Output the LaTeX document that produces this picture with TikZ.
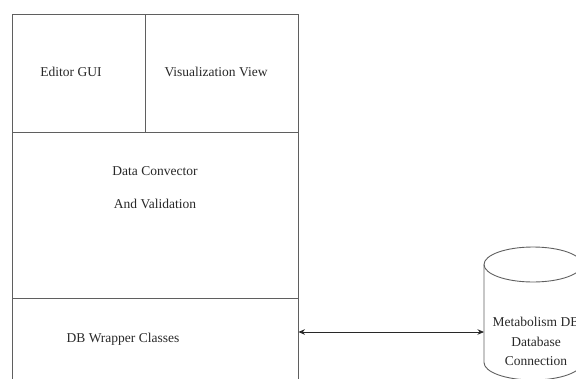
\documentclass[tikz,border=0pt]{standalone}
\usepackage{fontspec}
\setmainfont{Liberation Serif}
\usepackage{tikz}
\usetikzlibrary{arrows.meta}
\definecolor{linegray}{RGB}{95,95,95}
\definecolor{textgray}{RGB}{40,40,40}
\tikzstyle{block} = [rectangle, draw=linegray, line width=0.9pt, inner sep=0pt]
\tikzstyle{caption} = [text=textgray, font=\fontsize{13.5}{19.5}\selectfont, align=center, inner sep=0pt]
\tikzstyle{store} = [draw=linegray, line width=0.9pt]
\tikzstyle{arrow} = [line width=0.8pt, draw=textgray, {Stealth[length=6.5pt,width=5.5pt]}-{Stealth[length=6.5pt,width=5.5pt]}]
\begin{document}
\begin{tikzpicture}
				[x=1pt, y=-1pt]
				\useasboundingbox (0,0) rectangle (576,378);
				\clip (0,0) rectangle (576,378);

				\node (editor) [block, minimum width=133, minimum height=118] at (78.5,73) {};
				\node (view) [block, minimum width=153, minimum height=118] at (221.5,73) {};
				\node (convert) [block, minimum width=286, minimum height=166] at (155,215) {};
				\node (wrapper) [block, minimum width=286, minimum height=102] at (155,349) {};

				% database cylinder
				\coordinate (dbtop) at (533,264.5);
				\coordinate (dbleft) at (484,332);
				\draw [store] (dbtop) ellipse [x radius=49, y radius=17.5];
				\draw [store] (484,264.5) -- (484,362.5) arc [start angle=180, end angle=360, x radius=49, y radius=-17.5] -- (582,264.5);

				\node (editortext) [caption] at (71,72) {Editor GUI};
				\node (viewtext) [caption] at (216,72) {Visualization View};
				\node (converttext) [caption] at (155,187.5) {Data Convector\\[13.5pt]And Validation};
				\node (wrappertext) [caption] at (123,339) {DB Wrapper Classes};
				\node (dbtext) [caption] at (536,341.5) {Metabolism DB\\Database\\Connection};

				\draw [arrow] (wrapper.east |- dbleft) -- (dbleft);
			\end{tikzpicture}
\end{document}
